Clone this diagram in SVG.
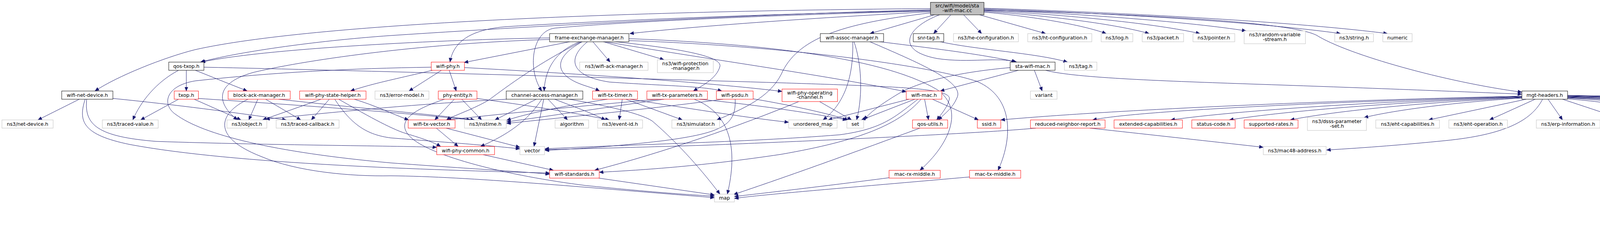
<svg xmlns="http://www.w3.org/2000/svg" width="5955" height="640" viewBox="0 0 5955 640">
<defs>
<marker id="arr" markerUnits="userSpaceOnUse" markerWidth="11" markerHeight="9" refX="10.5" refY="4.5" orient="auto">
<path d="M0,0 L10.5,4.5 L0,9 z" fill="#191970" stroke="#191970" stroke-width="0.5"/>
</marker>
</defs>
<style>
.e{fill:none;stroke:#191970;stroke-width:1;marker-end:url(#arr)}
.node rect{fill:#ffffff;stroke-width:1}
.k rect{stroke:#000000}
.r rect{stroke:#ff0000}
.g rect{stroke:#bfbfbf}
.root rect{fill:#bfbfbf;stroke:#000000}
text{font-family:"DejaVu Sans","Liberation Sans",sans-serif;font-size:12.7px;text-anchor:middle;fill:#000000}
</style>
<rect x="0" y="0" width="5955" height="640" fill="#ffffff"/>
<g id="edges">
<!-- root -->
<path class="e" d="M2382,30 C2100,45 1800,65 1612,86"/>
<path class="e" d="M2382,22 C1600,28 800,60 500,127 C420,147 300,195 243,233"/>
<path class="e" d="M2382,25 C2000,35 1500,58 1000,91 C800,105 600,135 513,159"/>
<path class="e" d="M2382,27 C2000,35 1600,50 1300,68 C1200,75 1160,110 1152,159"/>
<path class="e" d="M2382,28 C2000,38 1600,55 1420,72 C1360,80 1350,180 1387,233"/>
<path class="e" d="M2392,38 L2227,86"/>
<path class="e" d="M2434,38 L2390,86"/>
<path class="e" d="M2467,38 L2513,86"/>
<path class="e" d="M2508,38 L2677,86"/>
<path class="e" d="M2519,31 C2644,42 2769,63 2832,86"/>
<path class="e" d="M2519,29 C2688,40 2857,62 2942,86"/>
<path class="e" d="M2519,27 C2740,38 2961,61 3072,86"/>
<path class="e" d="M2519,25 C2785,36 3050,57 3190,79"/>
<path class="e" d="M2519,23 C2884,35 3249,60 3432,86"/>
<path class="e" d="M2519,21 C2932,34 3345,59 3552,86"/>
<path class="e" d="M2519,26 C2900,35 3300,55 3370,90 C3450,140 3700,210 3896,236"/>
<path class="e" d="M2405,38 C2320,70 2290,130 2400,150 C2480,162 2560,145 2600,159"/>
<path class="e" d="M2382,33 C2150,60 2040,100 2000,190 C1970,250 1900,280 1835,307"/>
<!-- frame-exchange-manager -->
<path class="e" d="M1407,97 C1200,100 700,120 515,159"/>
<path class="e" d="M1407,101 C1100,110 800,150 650,185 C540,215 560,270 608,307"/>
<path class="e" d="M1463,106 L1188,160"/>
<path class="e" d="M1487,106 C1420,130 1395,180 1393,233"/>
<path class="e" d="M1490,106 C1380,160 1300,220 1250,257 C1200,285 1160,296 1143,307"/>
<path class="e" d="M1492,106 C1410,150 1420,195 1500,220 C1515,225 1525,228 1535,233"/>
<path class="e" d="M1505,106 C1450,150 1460,195 1560,210 C1700,220 1800,220 1848,233"/>
<path class="e" d="M1517,106 L1562,159"/>
<path class="e" d="M1542,106 L1700,153"/>
<path class="e" d="M1567,106 C1700,120 1850,140 1843,170 C1835,200 1800,218 1775,233"/>
<path class="e" d="M1545,106 C1800,150 2100,190 2320,235"/>
<path class="e" d="M1610,99 C1900,110 2250,140 2400,230 C2470,280 2430,370 2355,436"/>
<path class="e" d="M1610,104 C1950,115 2350,160 2500,208 C2600,250 2590,360 2555,436"/>
<!-- qos-txop -->
<path class="e" d="M457,180 C400,210 360,260 340,307"/>
<path class="e" d="M477,180 L477,233"/>
<path class="e" d="M500,180 L633,233"/>
<path class="e" d="M522,172 C900,180 1600,200 2000,212 C2300,222 2440,225 2430,255 C2425,275 2410,292 2398,307"/>
<!-- wifi-net-device -->
<path class="e" d="M203,254 L97,307"/>
<path class="e" d="M289,252 C450,268 600,288 733,307"/>
<path class="e" d="M222,254 C215,320 250,350 400,362 C700,372 1000,373 1118,377"/>
<path class="e" d="M218,254 C200,310 210,345 333,370 C600,420 1100,435 1407,443"/>
<!-- txop -->
<path class="e" d="M457,254 L360,307"/>
<path class="e" d="M497,254 L617,307"/>
<path class="e" d="M508,252 C700,265 1000,285 1205,307"/>
<!-- block-ack-manager -->
<path class="e" d="M660,254 L637,307"/>
<path class="e" d="M680,254 L770,307"/>
<path class="e" d="M713,254 C900,275 1100,292 1215,307"/>
<path class="e" d="M635,254 C560,290 540,350 667,400 C760,440 900,452 1000,450 C1200,452 1500,480 1829,506"/>
<!-- wifi-phy-state-helper -->
<path class="e" d="M822,254 L672,307"/>
<path class="e" d="M843,254 L797,307"/>
<path class="e" d="M857,254 C900,320 940,345 1000,353 C1150,365 1250,372 1331,381"/>
<path class="e" d="M867,254 C930,290 1000,330 1040,342 C1080,354 1110,364 1128,375"/>
<path class="e" d="M907,254 C960,270 1000,290 1046,307"/>
<!-- wifi-phy -->
<path class="e" d="M1107,180 C1000,205 950,215 897,233"/>
<path class="e" d="M1130,180 L1047,233"/>
<path class="e" d="M1150,180 L1168,233"/>
<path class="e" d="M1104,172 C900,175 700,185 500,207 C420,220 415,270 450,293 C520,345 700,390 1000,417 C1200,432 1350,440 1407,446"/>
<path class="e" d="M1189,173 C1500,190 1800,210 2002,234"/>
<!-- phy-entity -->
<path class="e" d="M1163,254 L1113,307"/>
<path class="e" d="M1182,254 L1233,307"/>
<path class="e" d="M1221,252 C1350,270 1450,285 1560,307"/>
<path class="e" d="M1138,254 C1060,280 1010,310 1050,350 C1100,400 1300,450 1500,475 C1650,490 1750,498 1829,502"/>
<!-- channel-access-manager -->
<path class="e" d="M1297,254 C1150,262 1000,272 680,305"/>
<path class="e" d="M1373,254 L1267,307"/>
<path class="e" d="M1387,254 C1350,310 1300,345 1230,375"/>
<path class="e" d="M1392,254 L1367,375"/>
<path class="e" d="M1403,254 L1453,307"/>
<path class="e" d="M1420,254 C1460,270 1500,283 1550,307"/>
<path class="e" d="M1457,254 C1550,270 1640,290 1670,310 C1740,370 1800,440 1843,497"/>
<!-- wifi-tx-vector / wifi-phy-common / wifi-standards -->
<path class="e" d="M1117,328 L1173,375"/>
<path class="e" d="M1142,328 L1331,377"/>
<path class="e" d="M1237,396 L1417,436"/>
<path class="e" d="M1533,456 L1829,499"/>
<!-- wifi-tx-timer -->
<path class="e" d="M1555,254 C1450,270 1350,290 1297,308"/>
<path class="e" d="M1593,254 L1585,307"/>
<path class="e" d="M1602,254 L1747,307"/>
<path class="e" d="M1612,254 C1750,275 1900,300 2019,313"/>
<!-- wifi-tx-parameters -->
<path class="e" d="M1686,254 C1500,270 1300,290 1145,307"/>
<path class="e" d="M1700,254 C1550,275 1400,298 1297,312"/>
<path class="e" d="M1777,254 C1870,290 1890,380 1862,497"/>
<path class="e" d="M1790,254 C1950,270 2080,290 2168,307"/>
<!-- wifi-psdu -->
<path class="e" d="M1851,254 C1700,275 1450,300 1297,316"/>
<path class="e" d="M1882,254 C1885,320 1850,340 1700,360 C1550,378 1450,382 1395,385"/>
<path class="e" d="M1928,253 C2000,265 2100,285 2172,307"/>
<!-- wifi-phy-operating-channel -->
<path class="e" d="M2098,260 L2180,307"/>
<path class="e" d="M2045,260 C1900,320 1700,390 1522,436"/>
<!-- qos-utils, mac-rx/tx-middle -->
<path class="e" d="M2355,328 C2200,385 2050,440 1878,498"/>
<path class="e" d="M2276,455 C2100,478 1950,495 1880,503"/>
<path class="e" d="M2482,453 C2200,478 1950,498 1880,508"/>
<!-- wifi-mac -->
<path class="e" d="M2327,254 L2120,307"/>
<path class="e" d="M2342,254 L2205,307"/>
<path class="e" d="M2367,254 L2377,307"/>
<path class="e" d="M2387,254 L2505,307"/>
<path class="e" d="M2350,254 C2290,300 2260,330 2150,345 C1900,365 1600,370 1395,381"/>
<path class="e" d="M2358,254 C2300,320 2200,360 2000,395 C1800,425 1650,435 1534,441"/>
<!-- sta-wifi-mac -->
<path class="e" d="M2607,180 L2407,233"/>
<path class="e" d="M2586,173 C2450,185 2350,210 2300,240 C2250,270 2225,290 2212,307"/>
<path class="e" d="M2648,180 L2668,233"/>
<path class="e" d="M2677,180 C2750,200 3000,208 3200,215 C3500,225 3750,235 3896,241"/>
<!-- wifi-assoc-manager -->
<path class="e" d="M2183,106 C2185,180 2170,260 2107,307"/>
<path class="e" d="M2186,106 C2205,160 2210,240 2193,307"/>
<path class="e" d="M2225,106 C2350,160 2470,210 2450,250 C2440,275 2420,290 2402,307"/>
<path class="e" d="M2245,106 C2400,125 2520,140 2603,159"/>
<!-- snr-tag -->
<path class="e" d="M2403,106 C2500,128 2650,135 2733,159"/>
<!-- reduced-neighbor-report -->
<path class="e" d="M2790,328 C2900,340 3100,362 3234,377"/>
<path class="e" d="M2652,328 C2500,342 2100,360 1800,372 C1600,378 1450,382 1395,383"/>
<!-- mgt-headers -->
<path class="e" d="M3949,254 C3920,310 3850,345 3700,360 C3600,370 3500,378 3396,384"/>
<path class="e" d="M3896,246 C3362,258 2829,283 2562,307"/>
<path class="e" d="M3896,247 C3456,259 2917,282 2797,307"/>
<path class="e" d="M3896,248 C3536,259 3177,282 2997,307"/>
<path class="e" d="M3896,249 C3596,260 3297,283 3147,307"/>
<path class="e" d="M3896,250 C3659,261 3422,283 3303,307"/>
<path class="e" d="M3896,251 C3734,261 3573,281 3492,301"/>
<path class="e" d="M3907,254 L3657,307"/>
<path class="e" d="M3930,254 L3813,307"/>
<path class="e" d="M3963,254 L4000,307"/>
<path class="e" d="M4000,254 L4160,307"/>
<path class="e" d="M4013,253 C4136,263 4259,284 4320,307"/>
<path class="e" d="M4013,251 C4205,262 4397,285 4493,307"/>
<path class="e" d="M4013,250 C4276,261 4539,283 4670,307"/>
<path class="e" d="M4013,249 C4331,260 4648,281 4813,302"/>
<path class="e" d="M4013,248 C4428,259 4843,282 5050,307"/>
<path class="e" d="M4013,247 C4509,259 5005,282 5253,307"/>
<path class="e" d="M4013,246 C4583,258 5152,281 5437,307"/>
<path class="e" d="M4013,245 C4655,257 5297,281 5618,307"/>
<path class="e" d="M4013,244 C4735,256 5456,281 5817,307"/>
</g>
<!-- nodes -->
<g id="node-root" class="node root"><rect x="2382" y="6" width="137" height="32"/><text x="2450.5" y="19">src/wifi/model/sta</text><text x="2450.5" y="30.5">-wifi-mac.cc</text></g>
<g id="node-fem" class="node k"><rect x="1407" y="86" width="203" height="21"/><text x="1508.5" y="100.5">frame-exchange-manager.h</text></g>
<g id="node-wam" class="node k"><rect x="2100" y="86" width="162" height="21"/><text x="2181" y="100.5">wifi-assoc-manager.h</text></g>
<g id="node-snr" class="node k"><rect x="2338" y="86" width="78" height="21"/><text x="2377" y="100.5">snr-tag.h</text></g>
<g id="node-hecfg" class="node g"><rect x="2441" y="86" width="166" height="21"/><text x="2524" y="100.5">ns3/he-configuration.h</text></g>
<g id="node-htcfg" class="node g"><rect x="2631" y="86" width="164" height="21"/><text x="2713" y="100.5">ns3/ht-configuration.h</text></g>
<g id="node-log" class="node g"><rect x="2819" y="86" width="81" height="21"/><text x="2859.5" y="100.5">ns3/log.h</text></g>
<g id="node-packet" class="node g"><rect x="2924" y="86" width="106" height="21"/><text x="2977" y="100.5">ns3/packet.h</text></g>
<g id="node-pointer" class="node g"><rect x="3054" y="86" width="107" height="21"/><text x="3107.5" y="100.5">ns3/pointer.h</text></g>
<g id="node-rvs" class="node g"><rect x="3185" y="79" width="157" height="33"/><text x="3263.5" y="92.5">ns3/random-variable</text><text x="3263.5" y="104.5">-stream.h</text></g>
<g id="node-string" class="node g"><rect x="3417" y="86" width="99" height="21"/><text x="3466.5" y="100.5">ns3/string.h</text></g>
<g id="node-numeric" class="node g"><rect x="3540" y="86" width="75" height="21"/><text x="3577.5" y="100.5">numeric</text></g>
<g id="node-qostxop" class="node k"><rect x="432" y="159" width="90" height="21"/><text x="477" y="173.5">qos-txop.h</text></g>
<g id="node-wifiphy" class="node r"><rect x="1104" y="159" width="85" height="21"/><text x="1146.5" y="173.5">wifi-phy.h</text></g>
<g id="node-ackmgr" class="node g"><rect x="1484" y="159" width="175" height="21"/><text x="1571.5" y="173.5">ns3/wifi-ack-manager.h</text></g>
<g id="node-protmgr" class="node g"><rect x="1683" y="153" width="143" height="33"/><text x="1754.5" y="166.5">ns3/wifi-protection</text><text x="1754.5" y="178.5">-manager.h</text></g>
<g id="node-stamac" class="node k"><rect x="2586" y="159" width="115" height="21"/><text x="2643.5" y="173.5">sta-wifi-mac.h</text></g>
<g id="node-tag" class="node g"><rect x="2725" y="159" width="83" height="21"/><text x="2766.5" y="173.5">ns3/tag.h</text></g>
<g id="node-wnd" class="node k"><rect x="158" y="233" width="131" height="21"/><text x="223.5" y="247.5">wifi-net-device.h</text></g>
<g id="node-txop" class="node r"><rect x="446" y="233" width="62" height="21"/><text x="477" y="247.5">txop.h</text></g>
<g id="node-bam" class="node r"><rect x="584" y="233" width="159" height="21"/><text x="663.5" y="247.5">block-ack-manager.h</text></g>
<g id="node-wpsh" class="node r"><rect x="767" y="233" width="170" height="21"/><text x="852" y="247.5">wifi-phy-state-helper.h</text></g>
<g id="node-errm" class="node g"><rect x="960" y="233" width="138" height="21"/><text x="1029" y="247.5">ns3/error-model.h</text></g>
<g id="node-phyent" class="node r"><rect x="1122" y="233" width="99" height="21"/><text x="1171.5" y="247.5">phy-entity.h</text></g>
<g id="node-cam" class="node k"><rect x="1296" y="233" width="196" height="21"/><text x="1394" y="247.5">channel-access-manager.h</text></g>
<g id="node-txtimer" class="node r"><rect x="1517" y="233" width="115" height="21"/><text x="1574.5" y="247.5">wifi-tx-timer.h</text></g>
<g id="node-txparams" class="node r"><rect x="1656" y="233" width="155" height="21"/><text x="1733.5" y="247.5">wifi-tx-parameters.h</text></g>
<g id="node-psdu" class="node r"><rect x="1834" y="233" width="94" height="21"/><text x="1881" y="247.5">wifi-psdu.h</text></g>
<g id="node-opch" class="node r"><rect x="2002" y="228" width="142" height="32"/><text x="2073" y="241.5">wifi-phy-operating</text><text x="2073" y="253">-channel.h</text></g>
<g id="node-wifimac" class="node r"><rect x="2320" y="233" width="91" height="21"/><text x="2365.5" y="247.5">wifi-mac.h</text></g>
<g id="node-variant" class="node g"><rect x="2638" y="233" width="68" height="21"/><text x="2672" y="247.5">variant</text></g>
<g id="node-mgt" class="node k"><rect x="3896" y="233" width="117" height="21"/><text x="3954.5" y="247.5">mgt-headers.h</text></g>
<g id="node-netdev" class="node g"><rect x="5" y="307" width="131" height="21"/><text x="70.5" y="321.5">ns3/net-device.h</text></g>
<g id="node-tval" class="node g"><rect x="262" y="307" width="143" height="21"/><text x="333.5" y="321.5">ns3/traced-value.h</text></g>
<g id="node-object" class="node g"><rect x="581" y="307" width="102" height="21"/><text x="632" y="321.5">ns3/object.h</text></g>
<g id="node-tcb" class="node g"><rect x="707" y="307" width="161" height="21"/><text x="787.5" y="321.5">ns3/traced-callback.h</text></g>
<g id="node-txvec" class="node r"><rect x="1045" y="307" width="120" height="21"/><text x="1105" y="321.5">wifi-tx-vector.h</text></g>
<g id="node-nstime" class="node g"><rect x="1189" y="307" width="107" height="21"/><text x="1242.5" y="321.5">ns3/nstime.h</text></g>
<g id="node-algo" class="node g"><rect x="1421" y="307" width="86" height="21"/><text x="1464" y="321.5">algorithm</text></g>
<g id="node-eventid" class="node g"><rect x="1530" y="307" width="115" height="21"/><text x="1587.5" y="321.5">ns3/event-id.h</text></g>
<g id="node-sim" class="node g"><rect x="1720" y="307" width="122" height="21"/><text x="1781" y="321.5">ns3/simulator.h</text></g>
<g id="node-umap" class="node g"><rect x="2019" y="307" width="124" height="21"/><text x="2081" y="321.5">unordered_map</text></g>
<g id="node-set" class="node g"><rect x="2168" y="307" width="43" height="21"/><text x="2189.5" y="321.5">set</text></g>
<g id="node-qosutils" class="node r"><rect x="2336" y="307" width="90" height="21"/><text x="2381" y="321.5">qos-utils.h</text></g>
<g id="node-ssid" class="node r"><rect x="2502" y="307" width="60" height="21"/><text x="2532" y="321.5">ssid.h</text></g>
<g id="node-rnr" class="node r"><rect x="2638" y="307" width="191" height="21"/><text x="2733.5" y="321.5">reduced-neighbor-report.h</text></g>
<g id="node-extcap" class="node r"><rect x="2852" y="307" width="175" height="21"/><text x="2939.5" y="321.5">extended-capabilities.h</text></g>
<g id="node-status" class="node r"><rect x="3051" y="307" width="111" height="21"/><text x="3106.5" y="321.5">status-code.h</text></g>
<g id="node-suprates" class="node r"><rect x="3185" y="307" width="138" height="21"/><text x="3254" y="321.5">supported-rates.h</text></g>
<g id="node-dsss" class="node g"><rect x="3347" y="301" width="151" height="33"/><text x="3422.5" y="314.5">ns3/dsss-parameter</text><text x="3422.5" y="326.5">-set.h</text></g>
<g id="node-ehtcap" class="node g"><rect x="3522" y="307" width="163" height="21"/><text x="3603.5" y="321.5">ns3/eht-capabilities.h</text></g>
<g id="node-ehtop" class="node g"><rect x="3709" y="307" width="150" height="21"/><text x="3784" y="321.5">ns3/eht-operation.h</text></g>
<g id="node-erp" class="node g"><rect x="3933" y="307" width="163" height="21"/><text x="4014.5" y="321.5">ns3/erp-information.h</text></g>
<g id="node-hecap" class="node g"><rect x="4120" y="307" width="157" height="21"/><text x="4198.5" y="321.5">ns3/he-capabilities.h</text></g>
<g id="node-heop" class="node g"><rect x="4301" y="307" width="144" height="21"/><text x="4373" y="321.5">ns3/he-operation.h</text></g>
<g id="node-htcap" class="node g"><rect x="4469" y="307" width="155" height="21"/><text x="4546.5" y="321.5">ns3/ht-capabilities.h</text></g>
<g id="node-htop" class="node g"><rect x="4648" y="307" width="141" height="21"/><text x="4718.5" y="321.5">ns3/ht-operation.h</text></g>
<g id="node-muedca" class="node g"><rect x="4813" y="301" width="179" height="33"/><text x="4902.5" y="314.5">ns3/mu-edca-parameter</text><text x="4902.5" y="326.5">-set.h</text></g>
<g id="node-mle" class="node g"><rect x="5016" y="307" width="183" height="21"/><text x="5107.5" y="321.5">ns3/multi-link-element.h</text></g>
<g id="node-vhtcap" class="node g"><rect x="5224" y="307" width="163" height="21"/><text x="5305.5" y="321.5">ns3/vht-capabilities.h</text></g>
<g id="node-vhtop" class="node g"><rect x="5410" y="307" width="150" height="21"/><text x="5485" y="321.5">ns3/vht-operation.h</text></g>
<g id="node-capinfo" class="node r"><rect x="5584" y="307" width="178" height="21"/><text x="5673" y="321.5">capability-information.h</text></g>
<g id="node-edca" class="node r"><rect x="5786" y="307" width="163" height="21"/><text x="5867.5" y="321.5">edca-parameter-set.h</text></g>
<g id="node-phycommon" class="node r"><rect x="1118" y="375" width="148" height="21"/><text x="1192" y="389.5">wifi-phy-common.h</text></g>
<g id="node-vector" class="node g"><rect x="1331" y="375" width="63" height="21"/><text x="1362.5" y="389.5">vector</text></g>
<g id="node-mac48" class="node g"><rect x="3234" y="375" width="161" height="21"/><text x="3314.5" y="389.5">ns3/mac48-address.h</text></g>
<g id="node-standards" class="node r"><rect x="1407" y="436" width="127" height="20"/><text x="1470.5" y="450">wifi-standards.h</text></g>
<g id="node-macrx" class="node r"><rect x="2276" y="436" width="131" height="20"/><text x="2341.5" y="450">mac-rx-middle.h</text></g>
<g id="node-mactx" class="node r"><rect x="2482" y="436" width="131" height="20"/><text x="2547.5" y="450">mac-tx-middle.h</text></g>
<g id="node-map" class="node g"><rect x="1829" y="497" width="51" height="20"/><text x="1854.5" y="511">map</text></g>
</svg>
